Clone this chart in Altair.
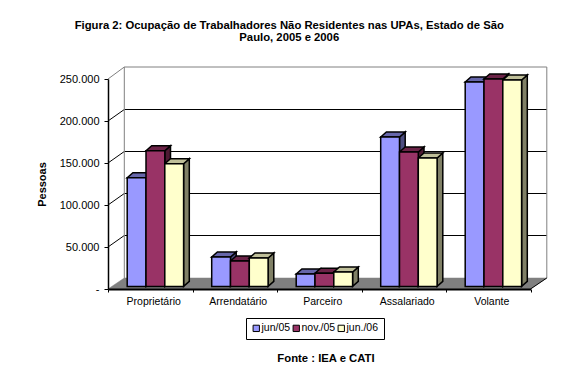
import altair as alt
import pandas as pd

categories = ["Proprietário", "Arrendatário", "Parceiro", "Assalariado", "Volante"]
series = ["jun/05", "nov./05", "jun./06"]
jun05 = [129400, 35000, 14800, 177900, 243300]
nov05 = [161500, 30200, 15700, 160000, 246900]
jun06 = [146000, 33800, 17100, 152900, 245700]
y_ticks = [0, 50000, 100000, 150000, 200000, 250000]
front_colors = ["#9999FF", "#993366", "#FFFFCC"]
top_colors = ["#6666AA", "#6B2347", "#BFBF99"]
side_colors = ["#4D4D80", "#4D1A33", "#808066"]
title_lines = ["Figura 2: Ocupação de Trabalhadores Não Residentes nas UPAs, Estado de São",
               "Paulo, 2005 e 2006"]
source_text = "Fonte : IEA e CATI"
FONT = "Liberation Sans"

W, H = 422.5, 210
CAT_PX = W / 5
YPX = 250000 / H          # value units per pixel
XPX = 1 / CAT_PX          # category units per pixel
WALL_DX, WALL_DY = 16.3 * XPX, 11 * YPX
GRID_DY = 11.5 * YPX
TOP_DY = 12 * YPX
BAR_DX, BAR_DY = 5.7 * XPX, 5 * YPX
BAR_BASE = 2.6 * YPX
BAR_START, BAR_W = 19.2 * XPX, 18.8 * XPX

front, side, top = [], [], []
for s, vals in zip(series, [jun05, nov05, jun06]):
    j = series.index(s)
    for i, v in enumerate(vals):
        x0 = i + BAR_START + j * BAR_W
        x1 = x0 + BAR_W
        y1 = v + BAR_BASE
        key = f"{s}-{i}"
        front.append(dict(s=s, x=x0, x2=x1, y=y1, y2=BAR_BASE))
        side += [dict(s=s, k=key, x=x1, y=y1, y2=BAR_BASE),
                 dict(s=s, k=key, x=x1 + BAR_DX, y=y1 + BAR_DY, y2=BAR_BASE + BAR_DY)]
        top += [dict(s=s, k=key, x=x0, y=y1, y2=y1),
                dict(s=s, k=key, x=x0 + BAR_DX, y=y1 + BAR_DY, y2=y1),
                dict(s=s, k=key, x=x1, y=y1 + BAR_DY, y2=y1),
                dict(s=s, k=key, x=x1 + BAR_DX, y=y1 + BAR_DY, y2=y1 + BAR_DY)]

X = alt.X("x:Q", axis=None, scale=alt.Scale(domain=[0, 5], nice=False, zero=False))
Y = alt.Y("y:Q", scale=alt.Scale(domain=[0, 250000], nice=False))

def y_axis_expr():
    return "datum.value == 0 ? '-' : replace(format(datum.value, ',d'), ',', '.')"

# x axis carried by a band scale, y axis by the wall layer
axis_layer = alt.Chart(pd.DataFrame({"c": categories})).mark_tick(opacity=0).encode(
    x=alt.X("c:N", sort=categories, title=None,
            scale=alt.Scale(paddingInner=0, paddingOuter=0),
            axis=alt.Axis(tickBand="extent", labelAngle=0, labelFont=FONT, labelFontSize=10.5,
                          labelColor="black", domainColor="black", domainWidth=2, tickColor="black",
                          tickSize=3, labelPadding=4, labelOffset=3, grid=False, zindex=1)),
)

floor = alt.Chart(pd.DataFrame([
    dict(x=0, y=0, y2=0), dict(x=WALL_DX, y=WALL_DY, y2=0),
    dict(x=5, y=WALL_DY, y2=0), dict(x=5 + WALL_DX, y=WALL_DY, y2=WALL_DY),
])).mark_area(color="#808080", stroke="#808080", strokeWidth=0.5, opacity=1).encode(x=X, y=Y, y2="y2:Q")

grid_df = pd.DataFrame([dict(y=t + GRID_DY, x=WALL_DX, x2=5 + WALL_DX) for t in y_ticks if 0 < t < 250000])
grid = alt.Chart(grid_df).mark_rule(color="black", strokeWidth=1).encode(x=X, x2="x2:Q", y=Y)

diag_df = pd.DataFrame([dict(x=0, x2=WALL_DX, y=t, y2=t + GRID_DY) for t in y_ticks])
diag = alt.Chart(diag_df[(diag_df.y > 0) & (diag_df.y < 250000)]).mark_rule(color="black", strokeWidth=1).encode(
    x=X, x2="x2:Q",
    y=alt.Y("y:Q", scale=alt.Scale(domain=[0, 250000], nice=False), title="Pessoas",
            axis=alt.Axis(values=y_ticks, labelExpr=y_axis_expr(), labelFont=FONT, labelFontSize=11,
                          labelColor="black", domainColor="black", domainWidth=1.5, tickColor="black",
                          tickSize=4, labelPadding=5, grid=False, titleFont=FONT, titleFontSize=11,
                          titleFontWeight="bold", titleColor="black", titlePadding=12, zindex=1)),
    y2="y2:Q")

wall_edges = alt.Chart(pd.DataFrame([
    dict(x=WALL_DX, x2=5 + WALL_DX, y=250000 + TOP_DY, y2=250000 + TOP_DY),
    dict(x=WALL_DX, x2=WALL_DX, y=250000 + TOP_DY, y2=WALL_DY),
    dict(x=5 + WALL_DX, x2=5 + WALL_DX, y=250000 + TOP_DY, y2=WALL_DY),
    dict(x=0, x2=WALL_DX, y=250000, y2=250000 + TOP_DY),
])).mark_rule(color="#808080", strokeWidth=1).encode(x=X, x2="x2:Q", y=Y, y2="y2:Q")

floor_edge = alt.Chart(pd.DataFrame([
    dict(x=5, x2=5 + WALL_DX, y=0, y2=WALL_DY),
])).mark_rule(color="black", strokeWidth=1).encode(x=X, x2="x2:Q", y=Y, y2="y2:Q")

side_layer = alt.Chart(pd.DataFrame(side)).mark_area(stroke="black", strokeWidth=1.5, opacity=1).encode(
    x=X, y=Y, y2="y2:Q", detail="k:N",
    color=alt.Color("s:N", legend=None, scale=alt.Scale(domain=series, range=side_colors)))
top_layer = alt.Chart(pd.DataFrame(top)).mark_area(stroke="black", strokeWidth=1.5, opacity=1).encode(
    x=X, y=Y, y2="y2:Q", detail="k:N",
    color=alt.Color("s:N", legend=None, scale=alt.Scale(domain=series, range=top_colors)))
front_layer = alt.Chart(pd.DataFrame(front)).mark_rect(stroke="black", strokeWidth=1.5, opacity=1).encode(
    x=X, x2="x2:Q", y=Y, y2="y2:Q",
    color=alt.Color("s:N", scale=alt.Scale(domain=series, range=front_colors), sort=series,
                    legend=alt.Legend(orient="none", legendX=138, legendY=239, direction="horizontal",
                                      columns=3, title=None, strokeColor="black", fillColor="white",
                                      padding=5, symbolType="square", symbolSize=40,
                                      symbolStrokeColor="black", symbolStrokeWidth=1, symbolOpacity=1,
                                      labelFont=FONT, labelFontSize=10.5, labelColor="black",
                                      labelOffset=0, columnPadding=0, rowPadding=0)))

source = alt.Chart(pd.DataFrame({"t": [source_text]})).mark_text(
    font=FONT, fontSize=11.3, fontWeight="bold", color="black", align="center", baseline="middle"
).encode(x=alt.value(218), y=alt.value(280), text="t:N")

chart = alt.layer(floor, grid, diag, wall_edges, floor_edge, axis_layer,
                  side_layer, top_layer, front_layer, source).resolve_scale(
    x="independent", color="independent"
).properties(
    width=W, height=H,
    title=alt.TitleParams(title_lines, font=FONT, fontSize=11.3, fontWeight="bold", color="black",
                          anchor="middle", dx=-30, offset=23, lineHeight=12),
    padding={"left": 100, "top": 71, "right": 30, "bottom": 78},
    autosize=alt.AutoSizeParams(type="none"),
    background="white",
).configure_view(stroke=None)

chart.save("out.html", embed_options={"renderer": "svg", "actions": False})
